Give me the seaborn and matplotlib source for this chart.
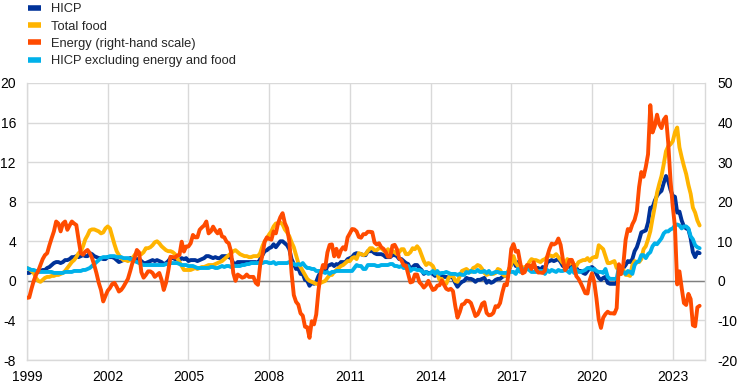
import numpy as np
import pandas as pd
import matplotlib
matplotlib.use("Agg")
import matplotlib.pyplot as plt
from matplotlib.lines import Line2D
from matplotlib import font_manager
import seaborn as sns

# ---------------- data (monthly, Jan 1999 - Jan 2024) ----------------
hicp = [
    0.8,0.8,0.9,1.0,0.9,0.9,1.0,1.1,1.1,1.3,1.4,1.6,
    1.8,1.9,1.9,1.8,1.9,2.1,2.1,2.2,2.4,2.4,2.5,2.4,
    2.5,2.6,2.5,2.5,2.8,2.7,2.5,2.4,2.3,2.3,2.2,2.2,
    2.4,2.4,2.4,2.3,2.1,1.9,2.0,2.1,2.1,2.2,2.3,2.3,
    2.1,2.2,2.2,2.0,1.8,1.8,1.9,2.0,2.1,2.0,2.1,2.0,
    1.9,1.7,1.8,2.0,2.3,2.3,2.2,2.2,2.1,2.3,2.2,2.3,
    2.0,2.1,2.1,2.1,2.0,2.1,2.2,2.3,2.5,2.5,2.4,2.3,
    2.4,2.3,2.3,2.5,2.5,2.5,2.4,2.3,1.8,1.7,1.9,1.9,
    1.9,1.9,1.9,1.9,1.9,1.9,1.9,1.8,2.2,2.6,3.0,3.1,
    3.3,3.4,3.7,3.4,3.7,4.0,4.0,3.8,3.6,3.2,2.2,1.7,
    1.2,1.3,0.7,0.7,0.1,0.0,-0.5,-0.2,-0.3,-0.1,0.5,0.9,
    1.0,0.9,1.5,1.6,1.7,1.5,1.7,1.6,1.9,1.9,1.9,2.2,
    2.3,2.4,2.7,2.8,2.7,2.7,2.6,2.6,3.0,3.0,3.0,2.8,
    2.7,2.7,2.7,2.6,2.4,2.4,2.4,2.6,2.6,2.5,2.2,2.2,
    2.0,1.8,1.7,1.2,1.4,1.6,1.6,1.3,1.1,0.7,0.9,0.8,
    0.8,0.7,0.5,0.7,0.5,0.5,0.4,0.4,0.3,0.4,0.3,-0.2,
    -0.6,-0.3,-0.1,0.0,0.3,0.2,0.2,0.1,-0.1,0.1,0.1,0.2,
    0.3,-0.2,0.0,-0.2,-0.1,0.1,0.2,0.2,0.4,0.5,0.6,1.1,
    1.7,2.0,1.5,1.9,1.4,1.3,1.3,1.5,1.5,1.4,1.5,1.3,
    1.3,1.1,1.4,1.2,1.9,2.0,2.1,2.0,2.1,2.2,1.9,1.5,
    1.4,1.5,1.4,1.7,1.2,1.3,1.0,1.0,0.8,0.7,1.0,1.3,
    1.4,1.2,0.7,0.3,0.1,0.3,0.4,-0.2,-0.3,-0.3,-0.3,-0.3,
    0.9,0.9,1.3,1.6,2.0,1.9,2.2,3.0,3.4,4.1,4.9,5.0,
    5.1,5.9,7.4,7.4,8.1,8.6,8.9,9.1,9.9,10.6,10.1,9.2,
    8.6,8.5,6.9,7.0,6.1,5.5,5.3,5.2,4.3,2.9,2.4,2.9,
    2.8,
]

food = [
    1.3,1.2,1.0,0.8,0.3,0.0,-0.1,0.1,0.3,0.4,0.4,0.5,
    0.5,0.6,0.6,0.7,0.8,1.0,1.3,1.6,1.9,2.1,2.4,2.8,
    3.0,3.5,4.2,4.6,5.1,5.2,5.2,5.1,5.0,4.8,4.9,5.3,
    5.5,5.3,4.5,3.7,3.0,2.6,2.3,2.1,2.1,2.0,2.1,2.3,
    2.6,2.9,2.6,2.7,2.9,3.3,3.3,3.4,3.6,3.9,4.0,3.8,
    3.5,3.3,3.1,3.0,3.0,2.9,2.7,2.3,1.9,1.5,1.1,1.1,
    1.1,1.1,1.2,1.3,1.2,1.3,1.4,1.4,1.5,1.6,1.6,1.6,
    1.7,1.8,1.9,2.0,2.2,2.4,2.6,2.8,3.0,3.1,2.9,2.7,
    2.6,2.5,2.5,2.4,2.4,2.5,2.5,2.5,2.8,3.5,4.0,4.3,
    4.7,5.0,5.5,5.8,5.8,5.9,5.7,5.2,4.9,4.5,3.9,3.4,
    2.6,1.8,1.4,1.0,0.6,0.2,0.0,-0.1,-0.2,-0.3,-0.3,-0.2,
    -0.1,0.0,0.3,0.6,0.6,0.9,1.1,1.3,1.5,1.6,1.8,2.0,
    2.0,2.3,2.4,2.2,2.8,2.7,2.6,2.7,3.0,3.3,3.3,3.1,
    3.1,3.3,3.3,3.1,2.9,3.2,2.9,3.0,2.9,2.7,2.9,3.2,
    3.2,2.7,2.7,2.9,3.3,3.2,3.5,3.2,2.6,2.0,1.6,1.8,
    1.7,1.5,1.0,0.7,0.1,0.2,-0.3,-0.3,0.3,0.5,0.5,0.0,
    -0.1,0.5,1.0,1.1,1.2,1.0,0.9,1.3,1.4,1.6,1.5,1.2,
    0.8,0.6,0.7,0.7,0.7,0.8,1.2,1.1,0.7,0.5,0.7,1.2,
    1.7,2.5,1.8,1.5,1.5,1.3,1.4,1.4,1.9,2.2,2.1,2.1,
    2.0,1.9,2.1,2.2,2.4,2.6,2.5,2.5,2.7,2.4,2.1,1.8,
    1.7,2.2,1.7,2.0,1.6,1.5,1.9,2.0,2.1,2.1,2.3,2.0,
    2.3,2.4,2.4,3.6,3.4,3.2,2.5,1.8,1.8,1.9,2.0,1.3,
    1.5,1.4,1.1,0.6,0.6,0.5,1.6,2.0,1.9,1.9,2.2,3.2,
    3.5,4.2,5.0,6.3,7.5,8.9,9.8,10.6,11.8,13.1,13.6,13.8,
    14.1,15.0,15.5,13.5,12.5,11.6,10.8,9.7,8.8,7.4,6.9,6.1,
    5.6,
]

energy = [
    -4.3,-4.2,-2.0,0.0,1.5,2.5,4.0,5.5,6.5,7.0,9.0,10.8,
    12.5,15.0,14.5,12.5,14.5,15.0,12.9,14.0,15.0,14.5,14.1,10.4,
    7.0,6.6,7.4,7.8,7.0,5.8,4.0,1.9,-0.5,-2.3,-5.2,-3.8,
    -2.5,-1.8,-0.8,-0.5,-1.5,-2.7,-2.3,-1.5,-0.5,0.5,2.4,4.5,
    5.8,7.8,7.2,2.2,0.8,1.5,2.4,2.4,2.0,1.0,1.5,2.0,
    0.3,-2.3,-0.5,2.5,6.1,6.0,5.9,6.4,6.5,9.9,7.4,8.7,
    8.7,9.5,11.6,11.0,11.0,12.9,13.5,14.0,15.0,12.0,12.5,13.7,
    12.7,12.0,12.9,11.2,11.0,9.9,9.5,7.4,2.0,0.0,1.6,1.2,
    0.8,1.0,1.6,1.0,1.0,1.0,-0.5,-1.0,4.0,6.5,9.9,11.0,
    10.6,10.4,12.5,12.0,14.6,16.1,17.1,14.6,13.3,10.0,2.0,-3.6,
    -5.3,-6.0,-8.2,-8.8,-11.6,-11.7,-14.4,-10.2,-11.0,-8.5,-2.4,1.8,
    4.0,3.3,7.2,9.1,9.2,6.2,8.1,6.1,7.7,8.5,7.9,11.0,
    12.0,13.1,13.0,12.5,11.1,10.9,11.8,11.8,12.4,12.4,12.3,9.7,
    9.2,9.5,8.5,8.1,7.3,6.1,6.1,8.9,9.1,8.0,5.7,5.2,
    3.9,3.9,1.7,-0.4,-0.2,1.6,1.6,-0.3,-0.9,-1.7,-1.1,0.0,
    -1.2,-2.3,-2.1,-1.2,-1.1,0.1,-1.0,-2.0,-2.3,-2.0,-2.6,-6.3,
    -9.3,-7.9,-6.0,-5.8,-5.0,-5.1,-5.6,-7.2,-8.9,-8.5,-7.3,-5.8,
    -5.4,-8.1,-8.7,-8.6,-8.1,-6.4,-6.6,-5.6,-3.0,-0.9,-1.1,2.6,
    8.1,9.3,7.4,7.6,4.5,1.9,2.2,4.0,3.9,3.0,4.7,2.9,
    2.1,2.1,2.0,2.6,6.1,8.0,9.4,9.2,9.5,10.7,9.1,5.5,
    2.7,3.6,5.3,5.3,3.8,1.2,0.5,-0.6,-1.8,-3.1,-3.2,0.2,
    1.9,-0.3,-4.5,-9.7,-11.9,-9.3,-8.4,-7.8,-8.2,-8.2,-8.3,-6.9,
    4.2,1.7,4.3,10.4,13.1,12.6,14.3,15.4,17.6,23.7,27.5,26.3,
    28.8,32.0,44.4,37.5,39.1,42.0,39.6,38.6,40.7,41.5,34.9,25.5,
    18.9,13.7,-0.9,2.4,-1.8,-5.6,-6.1,-3.3,-4.6,-11.2,-11.5,-6.7,
    -6.3,
]

core = [
    1.3,1.2,1.1,1.1,1.0,1.0,0.9,0.9,0.9,0.9,0.9,0.9,
    0.8,0.8,0.8,0.8,0.8,0.9,0.9,0.9,0.9,1.0,1.0,1.0,
    1.0,1.1,1.1,1.2,1.3,1.5,1.7,1.9,2.1,2.3,2.4,2.4,
    2.4,2.5,2.5,2.5,2.4,2.4,2.4,2.3,2.3,2.3,2.2,2.2,
    2.0,1.9,1.8,1.7,1.6,1.6,1.6,1.6,1.6,1.6,1.6,1.6,
    1.6,1.6,1.7,1.7,1.8,1.8,1.8,1.8,1.7,1.6,1.6,1.6,
    1.5,1.5,1.5,1.4,1.3,1.3,1.3,1.3,1.3,1.3,1.4,1.4,
    1.3,1.3,1.4,1.5,1.4,1.5,1.5,1.4,1.5,1.5,1.5,1.5,
    1.6,1.6,1.7,1.7,1.8,1.8,1.8,1.8,1.8,1.8,1.9,1.9,
    1.8,1.8,1.9,1.7,1.8,1.8,1.8,1.8,1.8,1.9,1.8,1.7,
    1.6,1.7,1.6,1.8,1.5,1.3,1.3,1.2,1.2,1.0,1.0,1.0,
    0.9,0.8,0.9,0.7,0.9,0.9,1.0,1.0,1.0,1.0,1.0,1.0,
    1.0,1.0,1.3,1.6,1.5,1.5,1.2,1.2,1.6,1.6,1.6,1.6,
    1.5,1.5,1.6,1.6,1.6,1.6,1.7,1.7,1.5,1.5,1.4,1.5,
    1.3,1.3,1.5,1.0,1.2,1.2,1.1,1.1,1.0,0.8,0.9,0.7,
    0.8,1.0,0.7,1.0,0.7,0.8,0.8,0.9,0.8,0.7,0.7,0.7,
    0.6,0.7,0.6,0.6,0.9,0.8,1.0,0.9,0.9,1.1,0.9,0.9,
    1.0,0.8,1.0,0.7,0.8,0.9,0.9,0.8,0.8,0.8,0.8,0.9,
    0.9,0.9,0.7,1.2,0.9,1.1,1.2,1.2,1.1,0.9,0.9,0.9,
    1.0,1.0,1.0,0.7,1.1,0.9,1.1,1.0,0.9,1.1,1.0,1.0,
    1.1,1.0,0.8,1.3,0.8,1.1,0.9,0.9,1.0,1.1,1.3,1.3,
    1.1,1.2,1.0,0.9,0.9,0.8,1.2,0.4,0.2,0.2,0.2,0.2,
    1.4,1.1,0.9,0.7,1.0,0.9,0.7,1.6,1.9,2.0,2.6,2.6,
    2.3,2.7,2.9,3.5,3.8,3.7,4.0,4.3,4.8,5.0,5.0,5.2,
    5.3,5.6,5.7,5.6,5.3,5.5,5.5,5.3,4.5,4.2,3.6,3.4,
    3.3,
]

series_labels = ["HICP", "Total food", "Energy (right-hand scale)",
                 "HICP excluding energy and food"]
left_ticks = [-8, -4, 0, 4, 8, 12, 16, 20]
right_ticks = [-20, -10, 0, 10, 20, 30, 40, 50]
year_ticks = [1999, 2002, 2005, 2008, 2011, 2014, 2017, 2020, 2023]

# ---------------- frame ----------------
dates = pd.date_range("1999-01-01", periods=len(hicp), freq="MS")
df = pd.DataFrame({
    "t": dates.year + (dates.month - 1) / 12.0,
    "hicp": hicp, "food": food, "energy": energy, "core": core,
})

# ---------------- style ----------------
sns.set_style("white")
names = {f.name for f in font_manager.fontManager.ttflist}
base_font = "Liberation Sans" if "Liberation Sans" in names else "DejaVu Sans"
plt.rcParams["font.family"] = [base_font, "DejaVu Sans"]
plt.rcParams["axes.unicode_minus"] = False

C_HICP = "#003299"
C_FOOD = "#FFB400"
C_ENERGY = "#FF4B00"
C_CORE = "#00B1EA"
GRID = "#d9d9d9"
LW = 2.8

fig = plt.figure(figsize=(7.44, 3.87), dpi=100)
ax = fig.add_axes([27 / 744, 27 / 387, 678 / 744, 277 / 387])
ax2 = ax.twinx()

sns.lineplot(data=df, x="t", y="hicp", ax=ax, color=C_HICP, lw=LW, zorder=3, legend=False)
sns.lineplot(data=df, x="t", y="food", ax=ax, color=C_FOOD, lw=LW, zorder=3, legend=False)
sns.lineplot(data=df, x="t", y="core", ax=ax, color=C_CORE, lw=LW, zorder=3, legend=False)
sns.lineplot(data=df, x="t", y="energy", ax=ax2, color=C_ENERGY, lw=LW, legend=False)

ax.set_xlim(1999, 2024.2)
ax.set_ylim(-8, 20)
ax2.set_ylim(-20, 50)

ax.set_xticks(year_ticks)
ax.set_xticklabels([str(y) for y in year_ticks])
ax.set_yticks(left_ticks)
ax.set_yticklabels([str(v) for v in left_ticks])
ax2.set_yticks(right_ticks)
ax2.set_yticklabels([str(v) for v in right_ticks])

ax.grid(True, color=GRID, lw=1.0)
ax.set_axisbelow(True)
ax.axhline(0, color="#7f7f7f", lw=1.0, zorder=2)

for a in (ax, ax2):
    a.set_xlabel("")
    a.set_ylabel("")
    a.tick_params(length=0, labelsize=10, colors="black")
ax.tick_params(axis="y", pad=8)
ax.tick_params(axis="x", pad=7)
ax2.tick_params(axis="y", pad=9)

for s in ("left", "bottom", "right"):
    ax.spines[s].set_color(GRID)
    ax.spines[s].set_linewidth(1.0)
ax.spines["top"].set_visible(False)
for s in ax2.spines.values():
    s.set_visible(False)

handles = [Line2D([], [], color=c, lw=4, solid_capstyle="butt")
           for c in (C_HICP, C_FOOD, C_ENERGY, C_CORE)]
fig.legend(handles, series_labels, loc="upper left",
           bbox_to_anchor=(28 / 744, 1 - 3 / 387), frameon=False,
           fontsize=9.3, handlelength=1.0, handletextpad=0.8,
           labelspacing=0.42, borderaxespad=0, borderpad=0)

fig.savefig("out.png", dpi=100)
